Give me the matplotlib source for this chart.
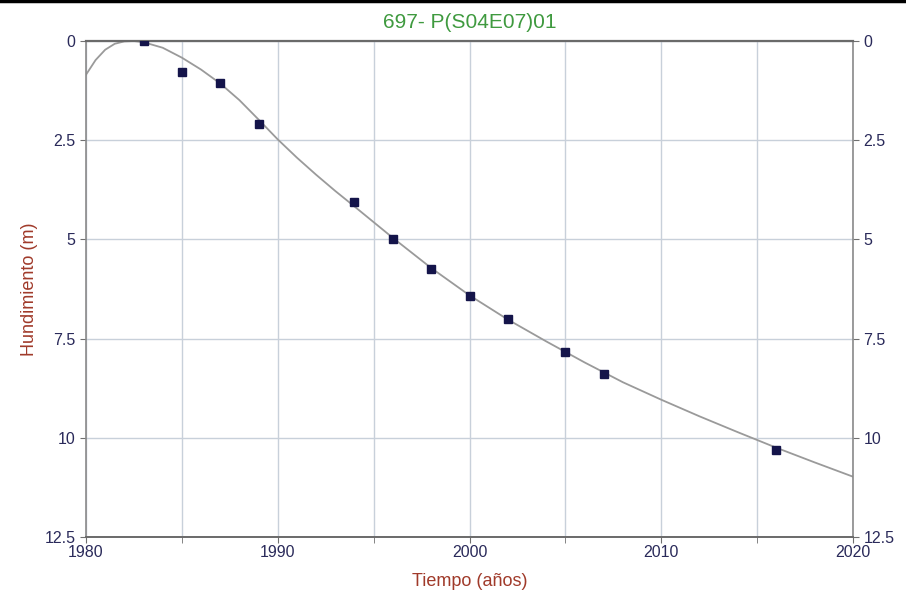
import matplotlib
matplotlib.use("Agg")
import matplotlib.pyplot as plt
from matplotlib.lines import Line2D
import numpy as np

plt.rcParams['font.family'] = ['Liberation Sans', 'DejaVu Sans']

# measured points
obs_year = [1983, 1985, 1987, 1989, 1994, 1996, 1998, 2000, 2002, 2005, 2007, 2016]
obs_sub = [0.0, 0.78, 1.06, 2.08, 4.07, 4.99, 5.74, 6.43, 7.0, 7.85, 8.38, 10.3]

# fitted curve
fit_year = [1980, 1980.5, 1981, 1981.5, 1982, 1982.5, 1983, 1984, 1985, 1986, 1987, 1988, 1989,
            1990, 1991, 1992, 1993, 1994, 1996, 1998, 2000, 2002, 2004, 2006, 2008, 2010,
            2012, 2014, 2016, 2018, 2020]
fit_sub = [0.85, 0.48, 0.22, 0.07, 0.01, 0.0, 0.03, 0.17, 0.42, 0.72, 1.07, 1.49, 1.98,
           2.48, 2.94, 3.37, 3.78, 4.17, 4.96, 5.72, 6.41, 7.02, 7.57, 8.1, 8.6, 9.04,
           9.46, 9.86, 10.25, 10.62, 10.98]

y_ticks = [0, 2.5, 5, 7.5, 10, 12.5]
y_labels = ['0', '2.5', '5', '7.5', '10', '12.5']
x_ticks = [1980, 1990, 2000, 2010, 2020]

tick_col = '#2a2a5a'
label_col = '#a03a2a'

fig = plt.figure(figsize=(9.06, 5.92), dpi=100)
ax = fig.add_axes([86/906, 1-537/592, (853-86)/906, (537-41)/592])

ax.plot(fit_year, fit_sub, color='#9a9a9a', lw=1.3, zorder=2)
ax.plot(obs_year, obs_sub, ls='none', marker='s', ms=6, color='#14144a', zorder=3)

ax.set_xlim(1980, 2020)
ax.set_ylim(12.5, 0)
ax.set_xticks(x_ticks)
ax.set_xticks(np.arange(1985, 2020, 10), minor=True)
ax.set_yticks(y_ticks)
ax.set_yticklabels(y_labels)
ax.grid(True, which='both', color='#c8d0da', lw=1.0, zorder=0)
ax.tick_params(axis='both', which='both', colors='#707070', labelcolor=tick_col,
               labelsize=11.5, length=4, direction='out')
ax.tick_params(axis='y', right=True, labelright=True)
ax.tick_params(axis='x', pad=2)
for s in ax.spines.values():
    s.set_color('#8a8a8a')
    s.set_linewidth(1.2)
ax.spines['top'].set_color('#6a6a6a')
ax.spines['top'].set_linewidth(1.6)
ax.spines['bottom'].set_color('#6a6a6a')
ax.spines['bottom'].set_linewidth(1.4)

ax.set_title('697- P(S04E07)01', color='#3f9a3f', fontsize=15, pad=9)
ax.set_xlabel('Tiempo (años)', color=label_col, fontsize=13, labelpad=9)
ax.set_ylabel('Hundimiento (m)', color=label_col, fontsize=13, labelpad=5)

fig.add_artist(Line2D([0, 1], [0.998, 0.998], transform=fig.transFigure, color='black', lw=2.5))

fig.savefig('out.png', dpi=100)
